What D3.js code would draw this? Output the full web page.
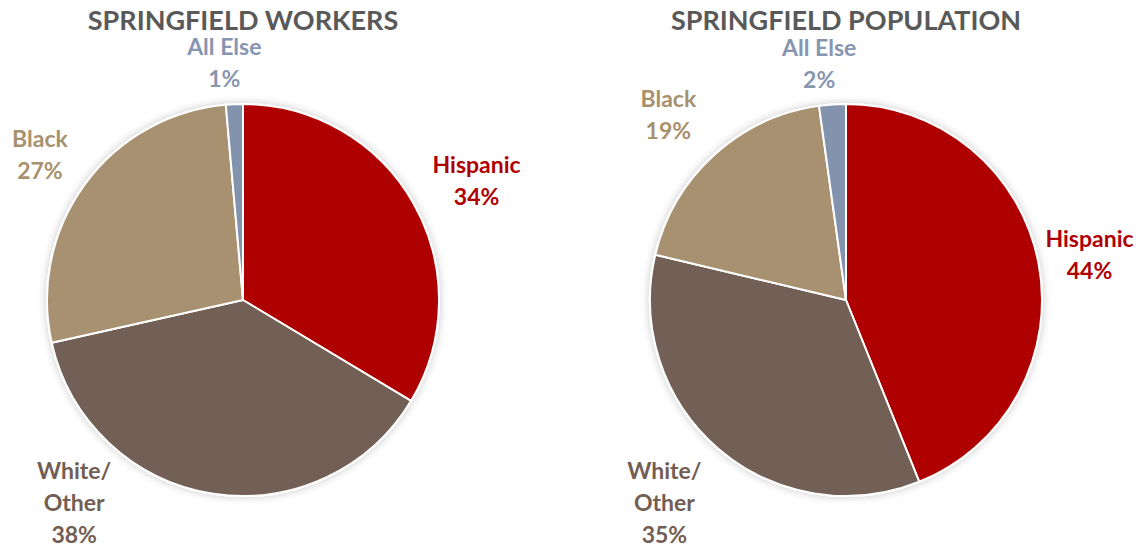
<!DOCTYPE html>
<html>
<head>
<meta charset="utf-8">
<script src="https://cdn.jsdelivr.net/npm/d3@7"></script>
<style>
  body { margin: 0; background: #fff; }
  text { font-family: Lato, "Open Sans", sans-serif; font-weight: bold; }
</style>
</head>
<body>
<div id="chart"></div>
<script>
// Data (shares in %; labels show them rounded)
const categories = ['Hispanic', 'White/Other', 'Black', 'All Else'];
const labelLines = [['Hispanic'], ['White/', 'Other'], ['Black'], ['All Else']];
const chartTitles = ['SPRINGFIELD WORKERS', 'SPRINGFIELD POPULATION'];
const workersValues = [33.6, 37.9, 27.1, 1.4];
const populationValues = [43.9, 34.8, 19.1, 2.2];

const W = 1141, H = 550;
const radius = 196;
const centers = [{ x: 243, y: 300 }, { x: 846, y: 300 }];

const fills = ['#ae0000', '#725f54', '#a8916f', '#8493ad'];
const textColors = ['#ae0000', '#725e54', '#a8916e', '#8796b0'];

const labelSize = 23;
const lineGap = 32;

// label nudges (px) applied after placing each label just outside its slice
const nudges = [
  [[16, -6], [-130, -40], [-14, -9], [-8, -7]],
  [[-2, -1], [-23, 16], [-20, -15], [-10, -7]]
];

const svg = d3.select('#chart')
  .append('svg')
  .attr('width', W)
  .attr('height', H);

const filter = svg.append('defs').append('filter')
  .attr('id', 'shadow')
  .attr('x', '-10%').attr('y', '-10%')
  .attr('width', '120%').attr('height', '120%');
filter.append('feDropShadow')
  .attr('dx', 0).attr('dy', 0)
  .attr('stdDeviation', 4)
  .attr('flood-color', '#000')
  .attr('flood-opacity', 0.22);

const pie = d3.pie().sort(null).value(d => d);
const arc = d3.arc().innerRadius(0).outerRadius(radius);

[workersValues, populationValues].forEach((values, ci) => {
  const c = centers[ci];
  const g = svg.append('g')
    .attr('transform', `translate(${c.x},${c.y})`);

  g.append('g')
    .attr('filter', 'url(#shadow)')
    .selectAll('path')
    .data(pie(values))
    .join('path')
    .attr('d', arc)
    .attr('fill', (d, i) => fills[i])
    .attr('stroke', '#fff')
    .attr('stroke-width', 2)
    .attr('stroke-linejoin', 'round');

  svg.append('text')
    .attr('x', c.x)
    .attr('y', 30)
    .attr('text-anchor', 'middle')
    .attr('fill', '#595959')
    .style('font-size', '27px')
    .text(chartTitles[ci]);

  pie(values).forEach((d, i) => {
    const lines = labelLines[i].concat([Math.round(d.data) + '%']);
    const lg = g.append('g');
    const t = lg.append('text')
      .attr('text-anchor', 'middle')
      .attr('fill', textColors[i])
      .style('font-size', labelSize + 'px');
    lines.forEach((s, k) => {
      t.append('tspan')
        .attr('x', 0)
        .attr('y', k * lineGap)
        .text(s);
    });
    const bb = t.node().getBBox();
    // block from cap top of first line to baseline of last line
    const top = -0.72 * labelSize, bottom = (lines.length - 1) * lineGap;
    const hw = bb.width / 2, hh = (bottom - top) / 2;
    const mid = (d.startAngle + d.endAngle) / 2;
    const sx = Math.sin(mid), sy = -Math.cos(mid);
    const r = radius + 10;
    const cx = r * sx + hw * sx + nudges[ci][i][0];
    const cy = r * sy + hh * sy + nudges[ci][i][1];
    lg.attr('transform', `translate(${cx},${cy - (top + bottom) / 2})`);
  });
});
</script>
</body>
</html>
